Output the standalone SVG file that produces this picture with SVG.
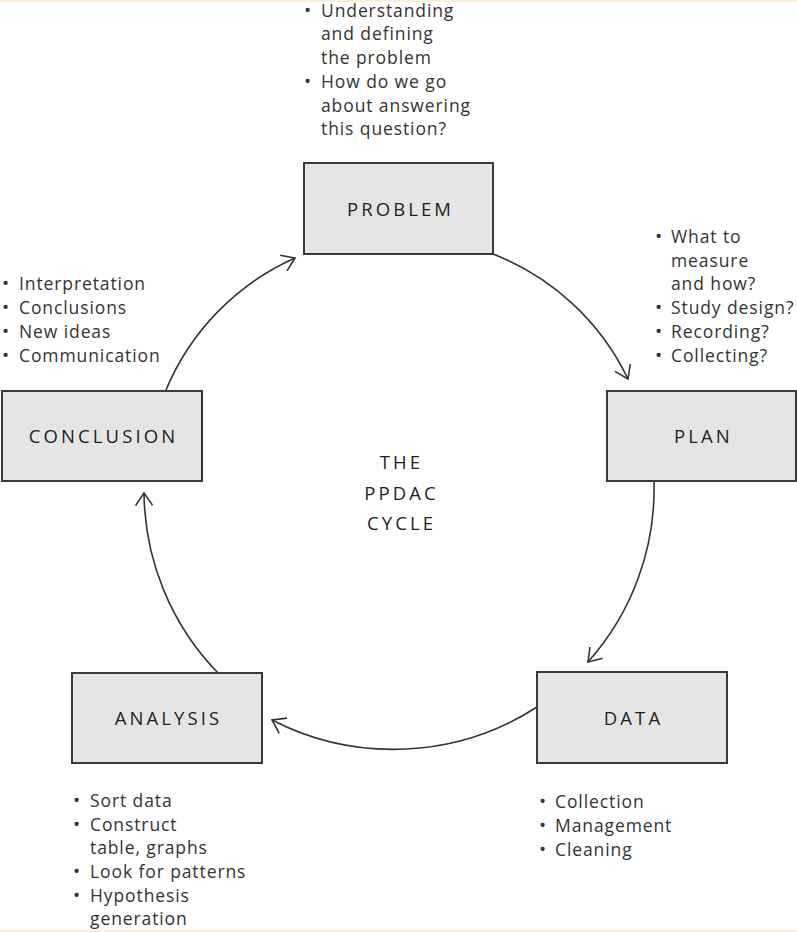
<svg xmlns="http://www.w3.org/2000/svg" width="797" height="932" viewBox="0 0 797 932">
<style>
.box{fill:#e5e5e5;stroke:#3a3a3a;stroke-width:2}
.lbl{font-family:"Open Sans","DejaVu Sans",sans-serif;font-size:18.5px;fill:#1e1e1e;letter-spacing:3.1px;text-anchor:middle}
.txt{font-family:"Open Sans","DejaVu Sans",sans-serif;font-size:17.5px;fill:#333;letter-spacing:0.9px}
.b{font-family:"Open Sans","DejaVu Sans",sans-serif;font-size:19px;fill:#333}
.arc{fill:none;stroke:#333;stroke-width:1.6}
</style>
<defs>
<marker id="ah" markerUnits="userSpaceOnUse" markerWidth="30" markerHeight="30" refX="15" refY="15" orient="auto" viewBox="0 0 30 30">
<path d="M2.5,6.5 L15,15 L2.5,23.5" fill="none" stroke="#333" stroke-width="1.6"/>
</marker>
</defs>
<rect x="0" y="0" width="797" height="932" fill="#fff"/>
<rect x="0" y="0" width="797" height="2" fill="#fcefd9"/>
<rect x="0" y="930" width="797" height="2" fill="#fcefd9"/>
<g id="connectors">
<path class="arc" d="M493,254 A250,250 0 0 1 628,379" marker-end="url(#ah)"/>
<path class="arc" d="M654,482 A260,260 0 0 1 588,662" marker-end="url(#ah)"/>
<path class="arc" d="M537,707 A265,265 0 0 1 272,720" marker-end="url(#ah)"/>
<path class="arc" d="M218,673 A262,262 0 0 1 144,493" marker-end="url(#ah)"/>
<path class="arc" d="M166,390 A250,250 0 0 1 295,258" marker-end="url(#ah)"/>
</g>
<g id="problem">
<rect class="box" x="304" y="163" width="189" height="91"/>
<text class="lbl" x="400.5" y="216">PROBLEM</text>
<text class="b" x="304" y="17">•</text><text class="b" x="304" y="88">•</text>
<text class="txt"><tspan x="321" y="17">Understanding</tspan><tspan x="321" y="40">and defining</tspan><tspan x="321" y="64">the problem</tspan><tspan x="321" y="88">How do we go</tspan><tspan x="321" y="112">about answering</tspan><tspan x="321" y="135">this question?</tspan></text>
</g>
<g id="plan">
<rect class="box" x="607" y="391" width="189" height="90"/>
<text class="lbl" x="703.5" y="443">PLAN</text>
<text class="b" x="655" y="243">•</text><text class="b" x="655" y="314">•</text><text class="b" x="655" y="338">•</text><text class="b" x="655" y="362">•</text>
<text class="txt"><tspan x="671" y="243">What to</tspan><tspan x="671" y="267">measure</tspan><tspan x="671" y="290">and how?</tspan><tspan x="671" y="314">Study design?</tspan><tspan x="671" y="338">Recording?</tspan><tspan x="671" y="362">Collecting?</tspan></text>
</g>
<g id="conclusion">
<rect class="box" x="2" y="391" width="200" height="90"/>
<text class="lbl" x="103.5" y="443">CONCLUSION</text>
<text class="b" x="2" y="290">•</text><text class="b" x="2" y="314">•</text><text class="b" x="2" y="338">•</text><text class="b" x="2" y="362">•</text>
<text class="txt"><tspan x="19" y="290">Interpretation</tspan><tspan x="19" y="314">Conclusions</tspan><tspan x="19" y="338">New ideas</tspan><tspan x="19" y="362">Communication</tspan></text>
</g>
<g id="analysis">
<rect class="box" x="72" y="673" width="190" height="90"/>
<text class="lbl" x="168.5" y="725">ANALYSIS</text>
<text class="b" x="73" y="807">•</text><text class="b" x="73" y="831">•</text><text class="b" x="73" y="878">•</text><text class="b" x="73" y="902">•</text>
<text class="txt"><tspan x="90" y="807">Sort data</tspan><tspan x="90" y="831">Construct</tspan><tspan x="90" y="854">table, graphs</tspan><tspan x="90" y="878">Look for patterns</tspan><tspan x="90" y="902">Hypothesis</tspan><tspan x="90" y="925">generation</tspan></text>
</g>
<g id="data">
<rect class="box" x="537" y="672" width="190" height="91"/>
<text class="lbl" x="633.5" y="725">DATA</text>
<text class="b" x="539" y="808">•</text><text class="b" x="539" y="832">•</text><text class="b" x="539" y="856">•</text>
<text class="txt"><tspan x="555" y="808">Collection</tspan><tspan x="555" y="832">Management</tspan><tspan x="555" y="856">Cleaning</tspan></text>
</g>
<g id="center">
<text class="lbl" x="401.5" y="469">THE</text>
<text class="lbl" x="401.5" y="500">PPDAC</text>
<text class="lbl" x="401.5" y="530">CYCLE</text>
</g>
</svg>
